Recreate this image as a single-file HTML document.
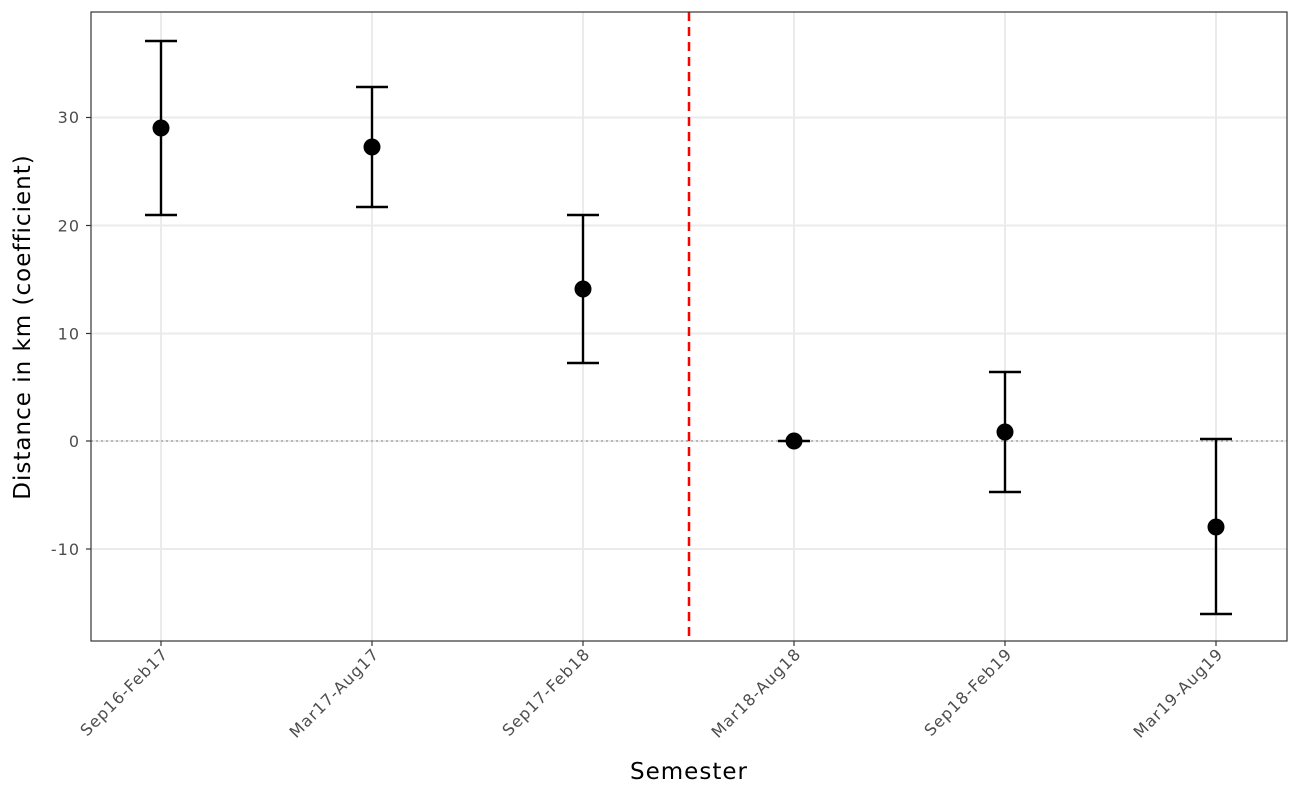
<!DOCTYPE html>
<html><head><meta charset="utf-8"><style>
body{margin:0;background:#fff;}
svg{display:block;font-family:"DejaVu Sans","Liberation Sans",sans-serif;}
</style></head><body>
<svg width="1300" height="800" viewBox="0 0 1300 800">
<rect width="1300" height="800" fill="#fff"/>
<g stroke="#ebebeb" stroke-width="2">
<line x1="91" x2="1287" y1="549" y2="549"/>
<line x1="91" x2="1287" y1="333.5" y2="333.5"/>
<line x1="91" x2="1287" y1="225.5" y2="225.5"/>
<line x1="91" x2="1287" y1="117.5" y2="117.5"/>
<line x1="91" x2="1287" y1="441" y2="441"/>
<line y1="12" y2="641" x1="161" x2="161"/>
<line y1="12" y2="641" x1="372" x2="372"/>
<line y1="12" y2="641" x1="583" x2="583"/>
<line y1="12" y2="641" x1="794" x2="794"/>
<line y1="12" y2="641" x1="1005" x2="1005"/>
<line y1="12" y2="641" x1="1216" x2="1216"/>
</g>
<line x1="91" x2="1287" y1="441" y2="441" stroke="#999" stroke-width="1.2" stroke-dasharray="2,3"/>
<line x1="689" x2="689" y1="12" y2="641" stroke="#ff0000" stroke-width="2.5" stroke-dasharray="9,6"/>
<g stroke="#000" stroke-width="2.4" fill="none">
<path d="M161 41V215M145 41H177M145 215H177"/>
<path d="M372 87V207M356 87H388M356 207H388"/>
<path d="M583 215V363M567 215H599M567 363H599"/>
<path d="M778 441H810"/>
<path d="M1005 372V492M989 372H1021M989 492H1021"/>
<path d="M1216 439V614M1200 439H1232M1200 614H1232"/>
</g>
<g fill="#000">
<circle cx="161" cy="128" r="8.5"/>
<circle cx="372" cy="147" r="8.5"/>
<circle cx="583" cy="289" r="8.5"/>
<circle cx="794" cy="441" r="8.5"/>
<circle cx="1005" cy="432" r="8.5"/>
<circle cx="1216" cy="527" r="8.5"/>
</g>
<rect x="91" y="12" width="1196" height="629" fill="none" stroke="#333" stroke-width="1.2"/>
<g stroke="#333" stroke-width="1.2">
<line x1="86" x2="91" y1="549" y2="549"/><line x1="86" x2="91" y1="441" y2="441"/>
<line x1="86" x2="91" y1="333.5" y2="333.5"/><line x1="86" x2="91" y1="225.5" y2="225.5"/>
<line x1="86" x2="91" y1="117.5" y2="117.5"/>
<line y1="641" y2="646" x1="161" x2="161"/><line y1="641" y2="646" x1="372" x2="372"/>
<line y1="641" y2="646" x1="583" x2="583"/><line y1="641" y2="646" x1="794" x2="794"/>
<line y1="641" y2="646" x1="1005" x2="1005"/><line y1="641" y2="646" x1="1216" x2="1216"/>
</g>
<g fill="#4d4d4d" font-size="16" letter-spacing="1" text-anchor="end">
<text x="80" y="123">30</text><text x="80" y="555">-10</text><text x="80" y="447">0</text><text x="80" y="339.5">10</text>
<text x="80" y="231.5">20</text>
<text transform="translate(169,655) rotate(-45)">Sep16-Feb17</text>
<text transform="translate(380,655) rotate(-45)">Mar17-Aug17</text>
<text transform="translate(591,655) rotate(-45)">Sep17-Feb18</text>
<text transform="translate(802,655) rotate(-45)">Mar18-Aug18</text>
<text transform="translate(1013,655) rotate(-45)">Sep18-Feb19</text>
<text transform="translate(1224,655) rotate(-45)">Mar19-Aug19</text>
</g>
<text x="689" y="779" font-size="23" letter-spacing="1" text-anchor="middle" fill="#000">Semester</text>
<text transform="translate(30,327) rotate(-90)" font-size="23" letter-spacing="1" text-anchor="middle" fill="#000">Distance in km (coefficient)</text>
</svg>
</body></html>
